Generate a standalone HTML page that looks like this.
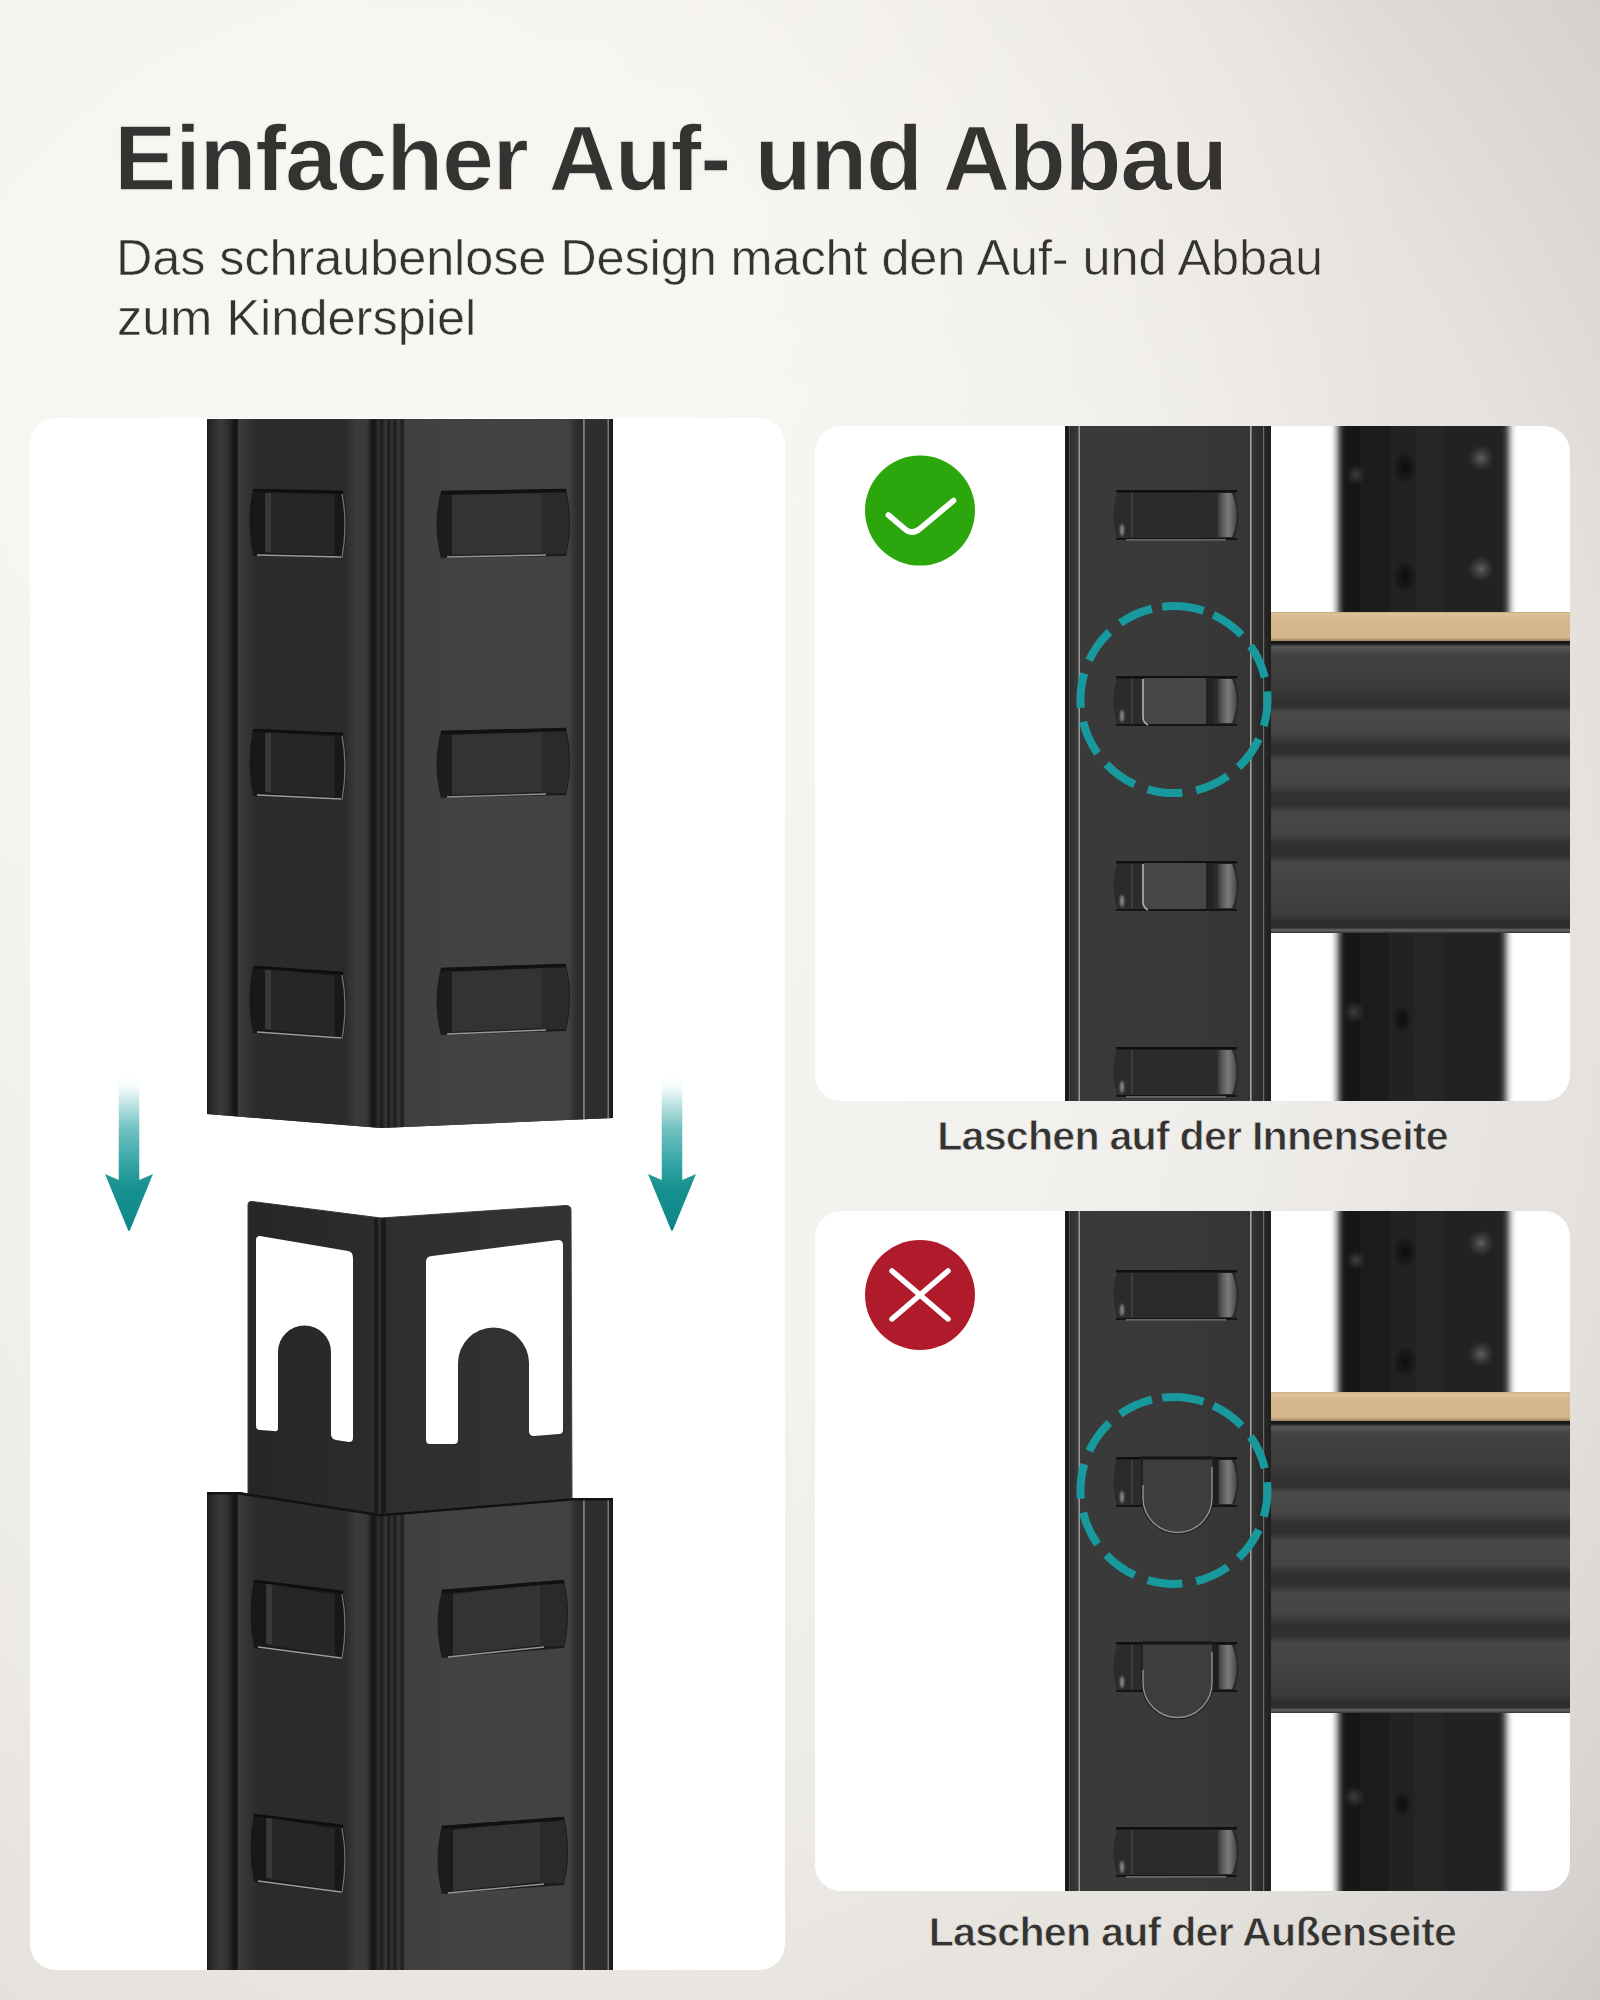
<!DOCTYPE html>
<html><head><meta charset="utf-8">
<style>
html,body{margin:0;padding:0;}
body{width:1600px;height:2000px;overflow:hidden;position:relative;
background:radial-gradient(1100px 900px at 300px 250px,rgba(249,247,244,0.95) 0%,rgba(249,247,244,0.85) 40%,rgba(249,247,244,0) 100%),radial-gradient(1300px 1500px at 550px 950px,#f6f4f1 0%,#f3f1ed 40%,#efedea 54%,#e8e5e1 72%,#e5e2de 82%,#e1deda 86%,#dad7d4 94%,#d5d2cf 101%,#cfccc9 106%,#c8c5c2 130%);
font-family:"Liberation Sans",sans-serif;color:#343332;}
.t{position:absolute;white-space:nowrap;line-height:1;}
#title{left:114px;top:111px;font-size:93.5px;font-weight:bold;letter-spacing:-1.4px;-webkit-text-stroke:1.3px #f3f0ec;}
#sub1{left:116px;top:233px;font-size:50.5px;letter-spacing:-0.12px;-webkit-text-stroke:0.6px #f4f1ed;}
#sub2{left:117px;top:293px;font-size:50.5px;letter-spacing:0.0px;-webkit-text-stroke:0.6px #f4f1ed;}
.cap{font-size:41.2px;font-weight:bold;letter-spacing:-0.78px;-webkit-text-stroke:0.8px #efedea;width:755px;left:815px;text-align:center;}
#cap1{top:1116px;}
#cap2{top:1912px;-webkit-text-stroke-color:#e4e2de;}
svg{position:absolute;left:0;top:0;}
</style></head>
<body>
<div class="t" id="title">Einfacher Auf- und Abbau</div>
<div class="t" id="sub1">Das schraubenlose Design macht den Auf- und Abbau</div>
<div class="t" id="sub2">zum Kinderspiel</div>
<svg width="1600" height="2000" viewBox="0 0 1600 2000"><defs>
<linearGradient id="flL" x1="0" x2="1" y1="0" y2="0">
 <stop offset="0" stop-color="#1c1c1c"/><stop offset="0.1" stop-color="#262626"/>
 <stop offset="0.45" stop-color="#3c3c3c"/><stop offset="0.72" stop-color="#2a2a2a"/>
 <stop offset="0.86" stop-color="#181818"/><stop offset="1" stop-color="#1a1a1a"/>
</linearGradient>
<linearGradient id="faceL" x1="0" x2="1" y1="0" y2="0">
 <stop offset="0" stop-color="#3c3c3c"/><stop offset="0.12" stop-color="#2e2e2e"/>
 <stop offset="0.16" stop-color="#2b2b2b"/><stop offset="0.8" stop-color="#2b2b2b"/>
 <stop offset="0.88" stop-color="#3b3b3b"/><stop offset="0.96" stop-color="#3a3a3a"/><stop offset="1" stop-color="#1a1a1a"/>
</linearGradient>
<linearGradient id="fold" x1="0" x2="1" y1="0" y2="0">
 <stop offset="0" stop-color="#151515"/><stop offset="0.1" stop-color="#1a1a1a"/>
 <stop offset="0.18" stop-color="#2e2e2e"/><stop offset="0.3" stop-color="#1c1c1c"/>
 <stop offset="0.42" stop-color="#3a3a3a"/><stop offset="0.5" stop-color="#1c1c1c"/>
 <stop offset="0.6" stop-color="#333333"/><stop offset="0.7" stop-color="#1c1c1c"/>
 <stop offset="0.8" stop-color="#3a3a3a"/><stop offset="0.92" stop-color="#1c1c1c"/><stop offset="1" stop-color="#3c3c3c"/>
</linearGradient>
<linearGradient id="faceR" x1="0" x2="1" y1="0" y2="0">
 <stop offset="0" stop-color="#404040"/><stop offset="0.5" stop-color="#434343"/><stop offset="0.96" stop-color="#424242"/><stop offset="1" stop-color="#303030"/>
</linearGradient>
<linearGradient id="flR" x1="0" x2="1" y1="0" y2="0">
 <stop offset="0" stop-color="#303030"/><stop offset="0.15" stop-color="#2a2a2a"/>
 <stop offset="0.2" stop-color="#2a2a2a"/><stop offset="0.235" stop-color="#a0a0a0"/>
 <stop offset="0.27" stop-color="#2e2e2e"/><stop offset="0.84" stop-color="#2e2e2e"/>
 <stop offset="0.875" stop-color="#888888"/><stop offset="0.91" stop-color="#222222"/><stop offset="1" stop-color="#151515"/>
</linearGradient>
<linearGradient id="conL" x1="0" x2="1" y1="0" y2="0">
 <stop offset="0" stop-color="#262626"/><stop offset="1" stop-color="#2c2c2c"/>
</linearGradient>
<linearGradient id="conR" x1="0" x2="1" y1="0" y2="0">
 <stop offset="0" stop-color="#2e2e2e"/><stop offset="1" stop-color="#333"/>
</linearGradient>
<linearGradient id="arr" x1="0" y1="0" x2="0" y2="1">
 <stop offset="0" stop-color="#ffffff" stop-opacity="0"/>
 <stop offset="0.1" stop-color="#f0f8f8" stop-opacity="1"/>
 <stop offset="0.35" stop-color="#72c2c2"/>
 <stop offset="0.55" stop-color="#3aa8a9"/>
 <stop offset="0.72" stop-color="#17918f"/>
 <stop offset="1" stop-color="#0d878b"/>
</linearGradient>
<linearGradient id="rpost" x1="0" x2="1" y1="0" y2="0">
 <stop offset="0" stop-color="#1e1e1e"/><stop offset="0.03" stop-color="#2f2f2f"/>
 <stop offset="0.06" stop-color="#3a3a3a"/><stop offset="0.5" stop-color="#3a3a3a"/>
 <stop offset="0.9" stop-color="#353535"/><stop offset="1" stop-color="#1f1f1f"/>
</linearGradient>
<linearGradient id="bpost" x1="0" x2="1" y1="0" y2="0">
 <stop offset="0" stop-color="#151515"/><stop offset="0.2" stop-color="#1c1c1c"/>
 <stop offset="0.5" stop-color="#262626"/><stop offset="1" stop-color="#202020"/>
</linearGradient>
<linearGradient id="beam" x1="0" x2="0" y1="0" y2="1">
 <stop offset="0" stop-color="#151515"/>
 <stop offset="0.009" stop-color="#1a1a1a"/>
 <stop offset="0.02" stop-color="#585858"/>
 <stop offset="0.045" stop-color="#424242"/>
 <stop offset="0.15" stop-color="#3c3c3c"/>
 <stop offset="0.2" stop-color="#333333"/>
 <stop offset="0.225" stop-color="#303030"/>
 <stop offset="0.245" stop-color="#4a4a4a"/>
 <stop offset="0.31" stop-color="#474747"/>
 <stop offset="0.355" stop-color="#303030"/>
 <stop offset="0.385" stop-color="#303030"/>
 <stop offset="0.41" stop-color="#484848"/>
 <stop offset="0.49" stop-color="#454545"/>
 <stop offset="0.525" stop-color="#303030"/>
 <stop offset="0.56" stop-color="#303030"/>
 <stop offset="0.59" stop-color="#474747"/>
 <stop offset="0.66" stop-color="#444444"/>
 <stop offset="0.695" stop-color="#303030"/>
 <stop offset="0.735" stop-color="#303030"/>
 <stop offset="0.76" stop-color="#474747"/>
 <stop offset="0.86" stop-color="#424242"/>
 <stop offset="0.94" stop-color="#3a3a3a"/>
 <stop offset="0.96" stop-color="#2e2e2e"/>
 <stop offset="0.982" stop-color="#2e2e2e"/>
 <stop offset="0.99" stop-color="#666666"/>
 <stop offset="1" stop-color="#333333"/>
</linearGradient>
<linearGradient id="board" x1="0" x2="0" y1="0" y2="1">
 <stop offset="0" stop-color="#c9ad84"/><stop offset="0.08" stop-color="#dec49c"/><stop offset="0.2" stop-color="#d6b98e"/>
 <stop offset="0.88" stop-color="#d3b58a"/><stop offset="1" stop-color="#9c8262"/>
</linearGradient>
<linearGradient id="ear" x1="0" x2="1" y1="0" y2="0">
 <stop offset="0" stop-color="#262626"/><stop offset="0.3" stop-color="#5a5a5a"/><stop offset="0.6" stop-color="#7a7a7a"/><stop offset="1" stop-color="#4a4a4a"/>
</linearGradient>
<radialGradient id="spotD"><stop offset="0" stop-color="#0a0a0a" stop-opacity="0.85"/><stop offset="0.5" stop-color="#0a0a0a" stop-opacity="0.5"/><stop offset="1" stop-color="#0a0a0a" stop-opacity="0"/></radialGradient>
<radialGradient id="spotL"><stop offset="0" stop-color="#707070" stop-opacity="0.8"/><stop offset="0.5" stop-color="#606060" stop-opacity="0.4"/><stop offset="1" stop-color="#606060" stop-opacity="0"/></radialGradient>
<radialGradient id="spotG"><stop offset="0" stop-color="#4a4a4a" stop-opacity="0.8"/><stop offset="0.5" stop-color="#444" stop-opacity="0.4"/><stop offset="1" stop-color="#444" stop-opacity="0"/></radialGradient>
<filter id="soft" x="-100%" y="-100%" width="300%" height="300%"><feGaussianBlur stdDeviation="1.2"/></filter>
<filter id="blur" x="-10%" y="-10%" width="120%" height="120%"><feGaussianBlur stdDeviation="3.5"/></filter>
<filter id="blur2" x="-100%" y="-100%" width="300%" height="300%"><feGaussianBlur stdDeviation="5.5"/></filter>
<clipPath id="cpTop"><polygon points="207,419 381,419 613,419 613,1118 381,1128 207,1114"/></clipPath><clipPath id="cpBot"><polygon points="207,1492 239,1492 381,1514 573,1498 613,1498 613,1970 381,1970 207,1970"/></clipPath><clipPath id="rp426"><rect x="815" y="426" width="755" height="675" rx="26"/></clipPath><clipPath id="rp1211"><rect x="815" y="1211" width="755" height="680" rx="26"/></clipPath></defs><rect x="30" y="418" width="755" height="1552" rx="26" fill="#ffffff"/>
<g clip-path="url(#cpTop)">
<rect x="200" y="419" width="420" height="711" fill="#262626"/>
<rect x="207" y="419" width="31" height="711" fill="url(#flL)"/>
<rect x="238" y="419" width="134" height="711" fill="url(#faceL)"/>
<rect x="372" y="419" width="33" height="711" fill="url(#fold)"/>
<rect x="405" y="419" width="170" height="711" fill="url(#faceR)"/>
<rect x="575" y="419" width="38" height="711" fill="url(#flR)"/>
<path d="M253,489 L343,491 Q350,524.5 343,558 L253,556 Q246,522.5 253,489 Z" fill="#181818"/><path d="M267,492.5 L335,494.5 L335,555 L267,553 Z" fill="#262626"/><path d="M268,493 L268,552" stroke="#3e3e3e" stroke-width="6" opacity="0.8"/><path d="M257,555 L341,557" stroke="#bdbdbd" stroke-width="1.5" opacity="0.8"/><path d="M342,494 Q348,524.5 342,558" fill="none" stroke="#8a8a8a" stroke-width="1.3" opacity="0.8"/><path d="M253,490 L343,492" stroke="#0e0e0e" stroke-width="2.5"/>
<path d="M441,491 L566,489 Q574,522.5 566,556 L441,558 Q432,524.5 441,491 Z" fill="#1c1c1c"/><path d="M542,492 L566,492 Q572,522.5 566,554 L542,554 Z" fill="#2a2a2a"/><path d="M452,495 L542,493 L542,553 L452,555 Z" fill="#333333"/><path d="M441,492.5 L566,490.5" stroke="#111" stroke-width="3.5"/><path d="M447,557 L546,555" stroke="#b5b5b5" stroke-width="1.4" opacity="0.8"/>
<path d="M253,729 L343,733 Q350,766.5 343,800 L253,796 Q246,762.5 253,729 Z" fill="#181818"/><path d="M267,732.5 L335,736.5 L335,797 L267,793 Z" fill="#262626"/><path d="M268,733 L268,792" stroke="#3e3e3e" stroke-width="6" opacity="0.8"/><path d="M257,795 L341,799" stroke="#bdbdbd" stroke-width="1.5" opacity="0.8"/><path d="M342,736 Q348,766.5 342,800" fill="none" stroke="#8a8a8a" stroke-width="1.3" opacity="0.8"/><path d="M253,730 L343,734" stroke="#0e0e0e" stroke-width="2.5"/>
<path d="M441,731 L566,728 Q574,761.5 566,795 L441,798 Q432,764.5 441,731 Z" fill="#1c1c1c"/><path d="M542,731 L566,731 Q572,761.5 566,793 L542,793 Z" fill="#2a2a2a"/><path d="M452,735 L542,732 L542,792 L452,795 Z" fill="#333333"/><path d="M441,732.5 L566,729.5" stroke="#111" stroke-width="3.5"/><path d="M447,797 L546,794" stroke="#b5b5b5" stroke-width="1.4" opacity="0.8"/>
<path d="M253,966 L343,972 Q350,1005.5 343,1039 L253,1033 Q246,999.5 253,966 Z" fill="#181818"/><path d="M267,969.5 L335,975.5 L335,1036 L267,1030 Z" fill="#262626"/><path d="M268,970 L268,1029" stroke="#3e3e3e" stroke-width="6" opacity="0.8"/><path d="M257,1032 L341,1038" stroke="#bdbdbd" stroke-width="1.5" opacity="0.8"/><path d="M342,975 Q348,1005.5 342,1039" fill="none" stroke="#8a8a8a" stroke-width="1.3" opacity="0.8"/><path d="M253,967 L343,973" stroke="#0e0e0e" stroke-width="2.5"/>
<path d="M441,968 L566,964 Q574,997.5 566,1031 L441,1035 Q432,1001.5 441,968 Z" fill="#1c1c1c"/><path d="M542,967 L566,967 Q572,997.5 566,1029 L542,1029 Z" fill="#2a2a2a"/><path d="M452,972 L542,968 L542,1028 L452,1032 Z" fill="#333333"/><path d="M441,969.5 L566,965.5" stroke="#111" stroke-width="3.5"/><path d="M447,1034 L546,1030" stroke="#b5b5b5" stroke-width="1.4" opacity="0.8"/>
</g>
<path d="M248,1205 Q248,1201 252,1201.5 L381,1218 L381,1520 L248,1500 Z" fill="url(#conL)" stroke="#3a3a3a" stroke-width="1"/>
<path d="M381,1218 L566,1205.5 Q571,1205.5 571,1210 L572,1500 L381,1520 Z" fill="url(#conR)" stroke="#3e3e3e" stroke-width="1"/>
<rect x="374" y="1218" width="12" height="300" fill="#1b1b1b"/>
<rect x="378" y="1218" width="3" height="300" fill="#2d2d2d"/>
<path d="M256,1240 Q256,1236 260,1236 L348,1251 Q353,1252 353,1258 L353,1438 Q353,1442 349,1442 L336,1440 Q331,1439 331,1434 L331,1352 A26.5,26.5 0 0 0 278,1352 L278,1428 Q278,1432 274,1431 L260,1430 Q256,1430 256,1426 Z" fill="#ffffff"/>
<path d="M426,1262 Q426,1256 432,1256 L558,1240 Q563,1240 563,1245 L563,1430 Q563,1434 559,1434 L534,1436 Q529,1436 529,1431 L529,1363 A35.5,35.5 0 0 0 458,1363 L458,1440 Q458,1444 454,1444 L430,1444 Q426,1444 426,1440 Z" fill="#ffffff"/>
<g clip-path="url(#cpBot)">
<rect x="200" y="1490" width="420" height="480" fill="#262626"/>
<rect x="207" y="1490" width="31" height="480" fill="url(#flL)"/>
<rect x="238" y="1490" width="134" height="480" fill="url(#faceL)"/>
<rect x="372" y="1490" width="33" height="480" fill="url(#fold)"/>
<rect x="405" y="1490" width="170" height="480" fill="url(#faceR)"/>
<rect x="575" y="1490" width="38" height="480" fill="url(#flR)"/>
<path d="M254,1580 L343,1591 Q350,1625.0 343,1659 L254,1648 Q247,1614.0 254,1580 Z" fill="#181818"/><path d="M268,1583.5 L335,1594.5 L335,1656 L268,1645 Z" fill="#262626"/><path d="M269,1584 L269,1644" stroke="#3e3e3e" stroke-width="6" opacity="0.8"/><path d="M258,1647 L341,1658" stroke="#bdbdbd" stroke-width="1.5" opacity="0.8"/><path d="M342,1594 Q348,1625.0 342,1659" fill="none" stroke="#8a8a8a" stroke-width="1.3" opacity="0.8"/><path d="M254,1581 L343,1592" stroke="#0e0e0e" stroke-width="2.5"/>
<path d="M254,1814 L343,1825 Q350,1859.0 343,1893 L254,1882 Q247,1848.0 254,1814 Z" fill="#181818"/><path d="M268,1817.5 L335,1828.5 L335,1890 L268,1879 Z" fill="#262626"/><path d="M269,1818 L269,1878" stroke="#3e3e3e" stroke-width="6" opacity="0.8"/><path d="M258,1881 L341,1892" stroke="#bdbdbd" stroke-width="1.5" opacity="0.8"/><path d="M342,1828 Q348,1859.0 342,1893" fill="none" stroke="#8a8a8a" stroke-width="1.3" opacity="0.8"/><path d="M254,1815 L343,1826" stroke="#0e0e0e" stroke-width="2.5"/>
<path d="M442,1590 L564,1580 Q572,1614.0 564,1648 L442,1658 Q433,1624.0 442,1590 Z" fill="#1c1c1c"/><path d="M540,1583 L564,1583 Q570,1614.0 564,1646 L540,1646 Z" fill="#2a2a2a"/><path d="M453,1594 L540,1584 L540,1645 L453,1655 Z" fill="#333333"/><path d="M442,1591.5 L564,1581.5" stroke="#111" stroke-width="3.5"/><path d="M448,1657 L544,1647" stroke="#b5b5b5" stroke-width="1.4" opacity="0.8"/>
<path d="M442,1826 L564,1817 Q572,1851.0 564,1885 L442,1894 Q433,1860.0 442,1826 Z" fill="#1c1c1c"/><path d="M540,1820 L564,1820 Q570,1851.0 564,1883 L540,1883 Z" fill="#2a2a2a"/><path d="M453,1830 L540,1821 L540,1882 L453,1891 Z" fill="#333333"/><path d="M442,1827.5 L564,1818.5" stroke="#111" stroke-width="3.5"/><path d="M448,1893 L544,1884" stroke="#b5b5b5" stroke-width="1.4" opacity="0.8"/>
<polyline points="207,1493 239,1493 381,1515 573,1499 613,1499" fill="none" stroke="#121212" stroke-width="3"/>
</g>
<path d="M118.75,1073 L139.25,1073 L139.25,1180 L153,1174 L130,1230 Q129,1232 128,1230 L105,1174 L118.75,1180 Z" fill="url(#arr)"/>
<path d="M661.75,1073 L682.25,1073 L682.25,1180 L696,1174 L673,1230 Q672,1232 671,1230 L648,1174 L661.75,1180 Z" fill="url(#arr)"/>
<rect x="815" y="426" width="755" height="675" rx="26" fill="#ffffff"/>
<g clip-path="url(#rp426)">
<g filter="url(#blur)">
<rect x="1338" y="406" width="171" height="221" fill="url(#bpost)"/>
<rect x="1338" y="918" width="168" height="203" fill="url(#bpost)"/>
</g>
<ellipse cx="1405" cy="467" rx="12" ry="17" fill="url(#spotD)"/>
<ellipse cx="1405" cy="577" rx="12" ry="17" fill="url(#spotD)"/>
<ellipse cx="1481" cy="458" rx="13" ry="13" fill="url(#spotL)"/>
<ellipse cx="1481" cy="569" rx="13" ry="13" fill="url(#spotL)"/>
<ellipse cx="1356" cy="475" rx="10" ry="10" fill="url(#spotG)"/>
<ellipse cx="1354" cy="1012" rx="11" ry="11" fill="url(#spotG)"/>
<ellipse cx="1402" cy="1019" rx="10" ry="14" fill="url(#spotD)"/>
<rect x="1271" y="612" width="300" height="29" fill="url(#board)"/>
<rect x="1271" y="641" width="300" height="292" fill="url(#beam)"/>
<rect x="1065" y="421" width="206" height="685" fill="url(#rpost)"/>
<rect x="1078.5" y="421" width="1.5" height="685" fill="#9a9a9a"/>
<rect x="1250" y="421" width="1.6" height="685" fill="#a0a0a0"/>
<rect x="1263" y="421" width="1.2" height="685" fill="#6a6a6a"/>
<rect x="1066" y="421" width="2.2" height="685" fill="#161616"/>
<rect x="1069" y="421" width="1" height="685" fill="#4a4a4a"/>
</g>
<path d="M1118,490 L1234,490 Q1243,515 1234,540 L1118,540 Q1109,515 1118,490 Z" fill="#2b2b2b"/>
<rect x="1116" y="490" width="121" height="2.5" fill="#101010"/>
<rect x="1116" y="538" width="121" height="2" fill="#141414"/>
<rect x="1126" y="539.2" width="100" height="1.2" fill="#d0d0d0" opacity="0.55"/>
<rect x="1131" y="493" width="2" height="44" fill="#3e3e3e"/>
<ellipse cx="1122" cy="530" rx="2" ry="6" fill="#d8d8d8" opacity="0.55" filter="url(#soft)"/>
<path d="M1216,493 L1232,493 Q1241,515 1232,537 L1216,537 Z" fill="url(#ear)"/>
<path d="M1118,676 L1234,676 Q1243,701 1234,726 L1118,726 Q1109,701 1118,676 Z" fill="#2b2b2b"/>
<rect x="1116" y="676" width="121" height="2.5" fill="#101010"/>
<rect x="1116" y="724" width="121" height="2" fill="#141414"/>
<rect x="1131" y="679" width="2" height="44" fill="#3e3e3e"/>
<ellipse cx="1122" cy="716" rx="2" ry="6" fill="#d8d8d8" opacity="0.55" filter="url(#soft)"/>
<path d="M1216,679 L1232,679 Q1241,701 1232,723 L1216,723 Z" fill="url(#ear)"/>
<path d="M1144,678 L1213,678 L1213,724 L1146,724 Q1141,722 1142,716 L1142,680 Z" fill="#474747"/>
<path d="M1143,679 L1143,716 Q1143,723 1148,725" fill="none" stroke="#b0b0b0" stroke-width="1.6"/>
<rect x="1206" y="678" width="8" height="46" fill="#232323"/>
<path d="M1118,861 L1234,861 Q1243,886 1234,911 L1118,911 Q1109,886 1118,861 Z" fill="#2b2b2b"/>
<rect x="1116" y="861" width="121" height="2.5" fill="#101010"/>
<rect x="1116" y="909" width="121" height="2" fill="#141414"/>
<rect x="1131" y="864" width="2" height="44" fill="#3e3e3e"/>
<ellipse cx="1122" cy="901" rx="2" ry="6" fill="#d8d8d8" opacity="0.55" filter="url(#soft)"/>
<path d="M1216,864 L1232,864 Q1241,886 1232,908 L1216,908 Z" fill="url(#ear)"/>
<path d="M1144,863 L1213,863 L1213,909 L1146,909 Q1141,907 1142,901 L1142,865 Z" fill="#474747"/>
<path d="M1143,864 L1143,901 Q1143,908 1148,910" fill="none" stroke="#b0b0b0" stroke-width="1.6"/>
<rect x="1206" y="863" width="8" height="46" fill="#232323"/>
<path d="M1118,1047 L1234,1047 Q1243,1072 1234,1097 L1118,1097 Q1109,1072 1118,1047 Z" fill="#2b2b2b"/>
<rect x="1116" y="1047" width="121" height="2.5" fill="#101010"/>
<rect x="1116" y="1095" width="121" height="2" fill="#141414"/>
<rect x="1126" y="1096.2" width="100" height="1.2" fill="#d0d0d0" opacity="0.55"/>
<rect x="1131" y="1050" width="2" height="44" fill="#3e3e3e"/>
<ellipse cx="1122" cy="1087" rx="2" ry="6" fill="#d8d8d8" opacity="0.55" filter="url(#soft)"/>
<path d="M1216,1050 L1232,1050 Q1241,1072 1232,1094 L1216,1094 Z" fill="url(#ear)"/>
<path d="M1162.20,606.85 A93.5,93.5 0 0 1 1203.59,610.91 M1213.37,614.79 A93.5,93.5 0 0 1 1241.60,635.00 M1250.50,645.84 A93.5,93.5 0 0 1 1264.84,677.46 M1267.13,691.29 A93.5,93.5 0 0 1 1263.74,725.84 M1258.81,738.97 A93.5,93.5 0 0 1 1238.60,767.20 M1227.76,776.10 A93.5,93.5 0 0 1 1196.14,790.44 M1182.31,792.73 A93.5,93.5 0 0 1 1147.76,789.34 M1134.63,784.41 A93.5,93.5 0 0 1 1106.40,764.20 M1097.50,753.36 A93.5,93.5 0 0 1 1083.16,721.74 M1080.87,707.91 A93.5,93.5 0 0 1 1084.26,673.36 M1089.19,660.23 A93.5,93.5 0 0 1 1109.40,632.00 M1120.24,623.10 A93.5,93.5 0 0 1 1151.86,608.76" fill="none" stroke="#17999e" stroke-width="8"/>
<circle cx="920" cy="510.6" r="55" fill="#2ba60d"/>
<path d="M888.5,515.1 L905,529.1 Q912,535.1 919.5,529.1 L953.5,500.6" fill="none" stroke="#fff" stroke-width="5.8" stroke-linecap="round" stroke-linejoin="round"/>
<rect x="815" y="1211" width="755" height="680" rx="26" fill="#ffffff"/>
<g clip-path="url(#rp1211)">
<g filter="url(#blur)">
<rect x="1338" y="1191" width="171" height="216" fill="url(#bpost)"/>
<rect x="1338" y="1698" width="168" height="213" fill="url(#bpost)"/>
</g>
<ellipse cx="1405" cy="1252" rx="12" ry="17" fill="url(#spotD)"/>
<ellipse cx="1405" cy="1362" rx="12" ry="17" fill="url(#spotD)"/>
<ellipse cx="1481" cy="1243" rx="13" ry="13" fill="url(#spotL)"/>
<ellipse cx="1481" cy="1354" rx="13" ry="13" fill="url(#spotL)"/>
<ellipse cx="1356" cy="1260" rx="10" ry="10" fill="url(#spotG)"/>
<ellipse cx="1354" cy="1797" rx="11" ry="11" fill="url(#spotG)"/>
<ellipse cx="1402" cy="1804" rx="10" ry="14" fill="url(#spotD)"/>
<rect x="1271" y="1392" width="300" height="29" fill="url(#board)"/>
<rect x="1271" y="1421" width="300" height="292" fill="url(#beam)"/>
<rect x="1065" y="1206" width="206" height="690" fill="url(#rpost)"/>
<rect x="1078.5" y="1206" width="1.5" height="690" fill="#9a9a9a"/>
<rect x="1250" y="1206" width="1.6" height="690" fill="#a0a0a0"/>
<rect x="1263" y="1206" width="1.2" height="690" fill="#6a6a6a"/>
<rect x="1066" y="1206" width="2.2" height="690" fill="#161616"/>
<rect x="1069" y="1206" width="1" height="690" fill="#4a4a4a"/>
</g>
<path d="M1118,1270 L1234,1270 Q1243,1295 1234,1320 L1118,1320 Q1109,1295 1118,1270 Z" fill="#2b2b2b"/>
<rect x="1116" y="1270" width="121" height="2.5" fill="#101010"/>
<rect x="1116" y="1318" width="121" height="2" fill="#141414"/>
<rect x="1126" y="1319.2" width="100" height="1.2" fill="#d0d0d0" opacity="0.55"/>
<rect x="1131" y="1273" width="2" height="44" fill="#3e3e3e"/>
<ellipse cx="1122" cy="1310" rx="2" ry="6" fill="#d8d8d8" opacity="0.55" filter="url(#soft)"/>
<path d="M1216,1273 L1232,1273 Q1241,1295 1232,1317 L1216,1317 Z" fill="url(#ear)"/>
<path d="M1118,1457 L1234,1457 Q1243,1482 1234,1507 L1118,1507 Q1109,1482 1118,1457 Z" fill="#2b2b2b"/>
<rect x="1116" y="1457" width="121" height="2.5" fill="#101010"/>
<rect x="1116" y="1505" width="121" height="2" fill="#141414"/>
<rect x="1131" y="1460" width="2" height="44" fill="#3e3e3e"/>
<ellipse cx="1122" cy="1497" rx="2" ry="6" fill="#d8d8d8" opacity="0.55" filter="url(#soft)"/>
<path d="M1216,1460 L1232,1460 Q1241,1482 1232,1504 L1216,1504 Z" fill="url(#ear)"/>
<path d="M1142,1457 L1213,1457 L1213,1498 A35.5,35.5 0 0 1 1142,1498 Z" fill="#3d3d3d" stroke="#1c1c1c" stroke-width="1.5"/>
<path d="M1143,1485 L1143,1498 A34.5,34.5 0 0 0 1212,1498 L1212,1467" fill="none" stroke="#a0a0a0" stroke-width="1.4" opacity="0.85"/>
<rect x="1143" y="1457" width="69" height="2.5" fill="#151515"/>
<rect x="1213.5" y="1459" width="5" height="46" fill="#1e1e1e"/>
<path d="M1118,1642 L1234,1642 Q1243,1667 1234,1692 L1118,1692 Q1109,1667 1118,1642 Z" fill="#2b2b2b"/>
<rect x="1116" y="1642" width="121" height="2.5" fill="#101010"/>
<rect x="1116" y="1690" width="121" height="2" fill="#141414"/>
<rect x="1131" y="1645" width="2" height="44" fill="#3e3e3e"/>
<ellipse cx="1122" cy="1682" rx="2" ry="6" fill="#d8d8d8" opacity="0.55" filter="url(#soft)"/>
<path d="M1216,1645 L1232,1645 Q1241,1667 1232,1689 L1216,1689 Z" fill="url(#ear)"/>
<path d="M1142,1642 L1213,1642 L1213,1683 A35.5,35.5 0 0 1 1142,1683 Z" fill="#3d3d3d" stroke="#1c1c1c" stroke-width="1.5"/>
<path d="M1143,1670 L1143,1683 A34.5,34.5 0 0 0 1212,1683 L1212,1652" fill="none" stroke="#a0a0a0" stroke-width="1.4" opacity="0.85"/>
<rect x="1143" y="1642" width="69" height="2.5" fill="#151515"/>
<rect x="1213.5" y="1644" width="5" height="46" fill="#1e1e1e"/>
<path d="M1118,1827 L1234,1827 Q1243,1852 1234,1877 L1118,1877 Q1109,1852 1118,1827 Z" fill="#2b2b2b"/>
<rect x="1116" y="1827" width="121" height="2.5" fill="#101010"/>
<rect x="1116" y="1875" width="121" height="2" fill="#141414"/>
<rect x="1126" y="1876.2" width="100" height="1.2" fill="#d0d0d0" opacity="0.55"/>
<rect x="1131" y="1830" width="2" height="44" fill="#3e3e3e"/>
<ellipse cx="1122" cy="1867" rx="2" ry="6" fill="#d8d8d8" opacity="0.55" filter="url(#soft)"/>
<path d="M1216,1830 L1232,1830 Q1241,1852 1232,1874 L1216,1874 Z" fill="url(#ear)"/>
<path d="M1162.20,1397.65 A93.5,93.5 0 0 1 1203.59,1401.71 M1213.37,1405.59 A93.5,93.5 0 0 1 1241.60,1425.80 M1250.50,1436.64 A93.5,93.5 0 0 1 1264.84,1468.26 M1267.13,1482.09 A93.5,93.5 0 0 1 1263.74,1516.64 M1258.81,1529.77 A93.5,93.5 0 0 1 1238.60,1558.00 M1227.76,1566.90 A93.5,93.5 0 0 1 1196.14,1581.24 M1182.31,1583.53 A93.5,93.5 0 0 1 1147.76,1580.14 M1134.63,1575.21 A93.5,93.5 0 0 1 1106.40,1555.00 M1097.50,1544.16 A93.5,93.5 0 0 1 1083.16,1512.54 M1080.87,1498.71 A93.5,93.5 0 0 1 1084.26,1464.16 M1089.19,1451.03 A93.5,93.5 0 0 1 1109.40,1422.80 M1120.24,1413.90 A93.5,93.5 0 0 1 1151.86,1399.56" fill="none" stroke="#17999e" stroke-width="8"/>
<circle cx="920" cy="1295.0" r="55" fill="#b01b2b"/>
<path d="M892,1271.0 L948,1319.0 M948,1271.0 L892,1319.0" fill="none" stroke="#fff" stroke-width="5.5" stroke-linecap="round"/></svg>
<div class="t cap" id="cap1">Laschen auf der Innenseite</div>
<div class="t cap" id="cap2">Laschen auf der Außenseite</div>
</body></html>
